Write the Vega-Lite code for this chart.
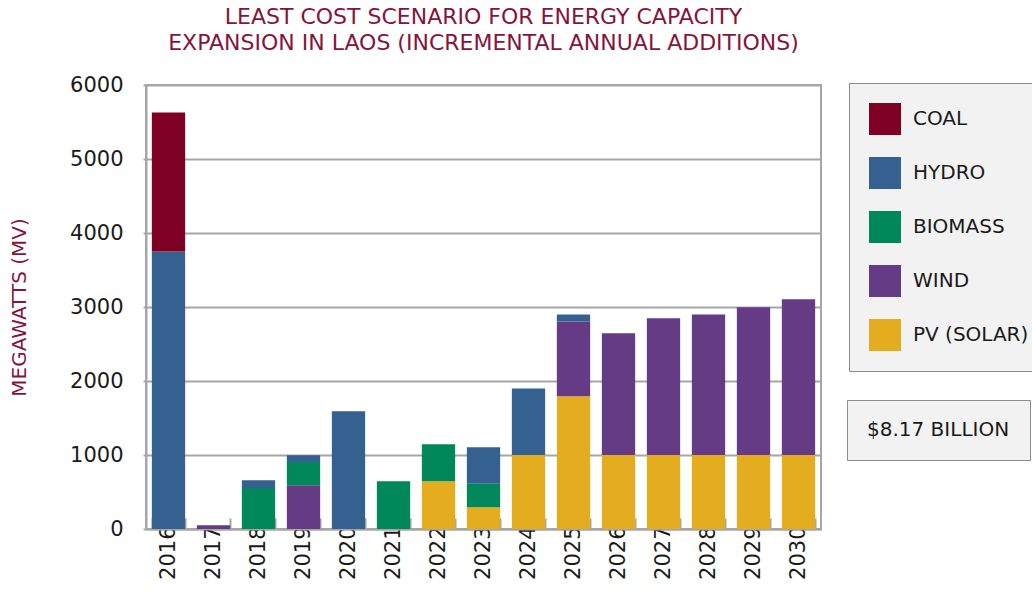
{
  "$schema": "https://vega.github.io/schema/vega-lite/v6.json",
  "autosize": "none",
  "width": 675,
  "height": 444,
  "padding": {"left": 146, "top": 85, "right": 211, "bottom": 70},
  "background": "white",
  "config": {
    "font": "DejaVu Sans",
    "view": {"stroke": "#a6a6a6", "strokeWidth": 2}
  },
  "title": {
    "text": ["LEAST COST SCENARIO FOR ENERGY CAPACITY", "EXPANSION IN LAOS (INCREMENTAL ANNUAL ADDITIONS)"],
    "fontSize": 22,
    "fontWeight": "normal",
    "color": "#85153a",
    "anchor": "middle",
    "lineHeight": 26,
    "offset": 19
  },
  "layer": [
    {
      "data": {
        "values": [
          {"year": "2016", "source": "HYDRO", "mw": 3750, "rank": 4},
          {"year": "2016", "source": "COAL", "mw": 1880, "rank": 5},
          {"year": "2017", "source": "WIND", "mw": 50, "rank": 2},
          {"year": "2018", "source": "BIOMASS", "mw": 555, "rank": 3},
          {"year": "2018", "source": "HYDRO", "mw": 105, "rank": 4},
          {"year": "2019", "source": "WIND", "mw": 590, "rank": 2},
          {"year": "2019", "source": "BIOMASS", "mw": 315, "rank": 3},
          {"year": "2019", "source": "HYDRO", "mw": 90, "rank": 4},
          {"year": "2020", "source": "HYDRO", "mw": 1590, "rank": 4},
          {"year": "2021", "source": "BIOMASS", "mw": 645, "rank": 3},
          {"year": "2022", "source": "PV (SOLAR)", "mw": 645, "rank": 1},
          {"year": "2022", "source": "BIOMASS", "mw": 500, "rank": 3},
          {"year": "2023", "source": "PV (SOLAR)", "mw": 295, "rank": 1},
          {"year": "2023", "source": "BIOMASS", "mw": 315, "rank": 3},
          {"year": "2023", "source": "HYDRO", "mw": 495, "rank": 4},
          {"year": "2024", "source": "PV (SOLAR)", "mw": 1000, "rank": 1},
          {"year": "2024", "source": "HYDRO", "mw": 900, "rank": 4},
          {"year": "2025", "source": "PV (SOLAR)", "mw": 1795, "rank": 1},
          {"year": "2025", "source": "WIND", "mw": 1010, "rank": 2},
          {"year": "2025", "source": "HYDRO", "mw": 95, "rank": 4},
          {"year": "2026", "source": "PV (SOLAR)", "mw": 1000, "rank": 1},
          {"year": "2026", "source": "WIND", "mw": 1645, "rank": 2},
          {"year": "2027", "source": "PV (SOLAR)", "mw": 1000, "rank": 1},
          {"year": "2027", "source": "WIND", "mw": 1847, "rank": 2},
          {"year": "2028", "source": "PV (SOLAR)", "mw": 1000, "rank": 1},
          {"year": "2028", "source": "WIND", "mw": 1900, "rank": 2},
          {"year": "2029", "source": "PV (SOLAR)", "mw": 1000, "rank": 1},
          {"year": "2029", "source": "WIND", "mw": 1995, "rank": 2},
          {"year": "2030", "source": "PV (SOLAR)", "mw": 1000, "rank": 1},
          {"year": "2030", "source": "WIND", "mw": 2105, "rank": 2}
        ]
      },
      "mark": {"type": "bar"},
      "encoding": {
        "x": {
          "field": "year",
          "type": "ordinal",
          "scale": {"paddingInner": 0.26, "paddingOuter": 0.13},
          "axis": {
            "title": null,
            "labelAngle": -90,
            "labelAlign": "right",
            "labelBaseline": "middle",
            "labelFontSize": 21,
            "labelColor": "#1a1a1a",
            "labelPadding": 8,
            "domainColor": "#a6a6a6",
            "domainWidth": 2,
            "tickBand": "extent",
            "tickSize": -11,
            "tickColor": "#a6a6a6",
            "tickWidth": 2
          }
        },
        "y": {
          "field": "mw",
          "type": "quantitative",
          "stack": "zero",
          "scale": {"domain": [0, 6000]},
          "axis": {
            "title": "MEGAWATTS (MV)",
            "titleColor": "#85153a",
            "titleFontSize": 20,
            "titleFontWeight": "normal",
            "titlePadding": 40,
            "format": "d",
            "values": [0, 1000, 2000, 3000, 4000, 5000, 6000],
            "labelFontSize": 21,
            "labelColor": "#1a1a1a",
            "labelPadding": 20,
            "domainColor": "#a6a6a6",
            "domainWidth": 2,
            "gridColor": "#a6a6a6",
            "gridWidth": 2,
            "tickColor": "#a6a6a6",
            "tickSize": 3,
            "tickWidth": 2
          }
        },
        "color": {
          "field": "source",
          "type": "nominal",
          "scale": {
            "domain": ["COAL", "HYDRO", "BIOMASS", "WIND", "PV (SOLAR)"],
            "range": ["#7f0025", "#356191", "#00875a", "#663b86", "#e3ad1f"]
          },
          "legend": {
            "title": null,
            "orient": "none",
            "legendX": 703,
            "legendY": -2,
            "fillColor": "#f2f2f2",
            "strokeColor": "#8c8c8c",
            "padding": 20,
            "symbolType": "square",
            "symbolSize": 1024,
            "symbolStrokeWidth": 0,
            "symbolOpacity": 1,
            "labelFontSize": 20,
            "labelColor": "#1a1a1a",
            "labelOffset": 12,
            "rowPadding": 22,
            "labelLimit": 300
          }
        },
        "order": {"field": "rank", "type": "quantitative"}
      }
    },
    {
      "data": {"values": [{"note": "$8.17 BILLION"}]},
      "mark": {"type": "point", "opacity": 0},
      "encoding": {
        "shape": {
          "field": "note",
          "type": "nominal",
          "legend": {
            "title": null,
            "orient": "none",
            "legendX": 701,
            "legendY": 315,
            "fillColor": "#f2f2f2",
            "strokeColor": "#8c8c8c",
            "padding": 20,
            "symbolSize": 0,
            "symbolOpacity": 0,
            "labelOffset": -20,
            "labelFontSize": 20,
            "labelColor": "#1a1a1a",
            "labelLimit": 300
          }
        }
      }
    }
  ]
}
